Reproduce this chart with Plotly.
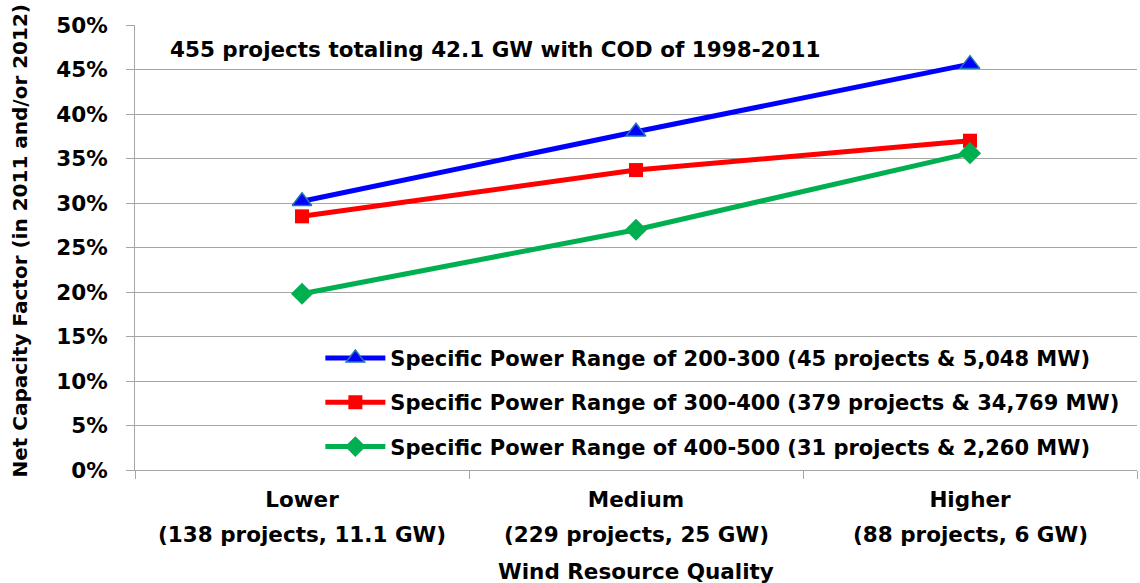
import plotly.graph_objects as go

categories = ["Lower", "Medium", "Higher"]
category_notes = ["(138 projects, 11.1 GW)",
                  "(229 projects, 25 GW)",
                  "(88 projects, 6 GW)"]

sp_200_300 = [0.302, 0.380, 0.456]
sp_300_400 = [0.285, 0.337, 0.370]
sp_400_500 = [0.198, 0.270, 0.356]

names = ["Specific Power Range of 200-300 (45 projects & 5,048 MW)",
         "Specific Power Range of 300-400 (379 projects & 34,769 MW)",
         "Specific Power Range of 400-500 (31 projects & 2,260 MW)"]

FONT = "DejaVu Sans, Arial, sans-serif"
FS = 21.5
GRID = "#a6a6a6"

def bold(size=FS):
    return dict(size=size, color="black", family=FONT, weight="bold")

fig = go.Figure()

fig.add_trace(go.Scatter(
    x=categories, y=sp_200_300, name=names[0], legendgroup="a",
    mode="lines+markers",
    line=dict(color="#0000ff", width=5),
    marker=dict(symbol="triangle-up", size=17, color="#0000ff",
                line=dict(color="#1f77b4", width=1.5))
))
fig.add_trace(go.Scatter(
    x=categories, y=sp_300_400, name=names[1], legendgroup="b",
    mode="lines+markers",
    line=dict(color="#ff0000", width=5),
    marker=dict(symbol="square", size=14, color="#ff0000")
))
fig.add_trace(go.Scatter(
    x=categories, y=sp_400_500, name=names[2], legendgroup="c",
    mode="lines+markers",
    line=dict(color="#00b050", width=5),
    marker=dict(symbol="diamond", size=17, color="#00b050")
))

fig.add_annotation(
    text="455 projects totaling 42.1 GW with COD of 1998-2011",
    xref="paper", yref="paper", x=0.033, y=0.945,
    xanchor="left", yanchor="middle", showarrow=False, font=bold()
)

# second line of each category label (Excel-like wider line spacing)
for cat, note in zip(categories, category_notes):
    fig.add_annotation(
        text=note, x=cat, xref="x", yref="paper", y=-0.146,
        xanchor="center", yanchor="middle", showarrow=False, font=bold()
    )

# axis titles
fig.add_annotation(
    text="Wind Resource Quality", xref="paper", yref="paper",
    x=0.5, y=-0.229, xanchor="center", yanchor="middle",
    showarrow=False, font=bold()
)
fig.add_annotation(
    text="Net Capacity Factor (in 2011 and/or 2012)", xref="paper", yref="paper",
    x=-0.115, y=0.515, xanchor="center", yanchor="middle", textangle=-90,
    showarrow=False, font=bold(20)
)

fig.update_layout(
    width=1140, height=583,
    margin=dict(l=135, r=3, t=25, b=113),
    plot_bgcolor="white", paper_bgcolor="white",
    font=bold(),
    showlegend=True,
    legend=dict(x=0.185, y=0.297, xanchor="left", yanchor="top",
                bgcolor="rgba(0,0,0,0)", tracegroupgap=14, itemwidth=60,
                font=bold(21)),
    xaxis=dict(
        range=[-0.5, 2.5], automargin=False,
        showline=True, linecolor=GRID, linewidth=1,
        ticks="outside", tickson="boundaries", ticklen=8, tickcolor=GRID,
        ticklabelstandoff=10,
        showgrid=False,
        tickfont=bold(),
    ),
    yaxis=dict(
        range=[0, 0.5], dtick=0.05, tickformat=".0%", automargin=False,
        showline=True, linecolor=GRID, linewidth=1,
        ticks="outside", ticklen=8, tickcolor=GRID,
        ticklabelstandoff=14,
        showgrid=True, gridcolor=GRID, gridwidth=1,
        zeroline=False,
        tickfont=bold(),
    ),
)

# drop the default 8px page margin so the figure fills the window
fig.write_html("out.html", config={"displayModeBar": False},
               post_script="document.body.style.margin='0';")
